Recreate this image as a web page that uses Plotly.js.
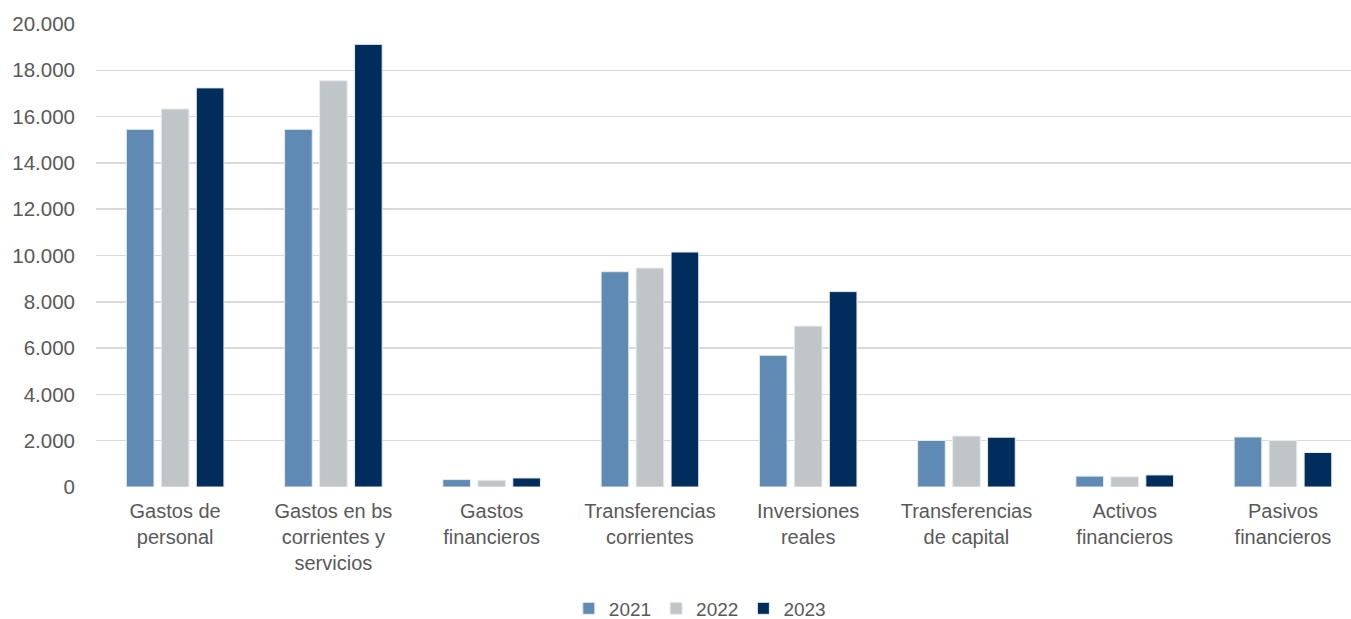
<!DOCTYPE html>
<html>
<head>
<meta charset="utf-8">
<script src="https://cdn.plot.ly/plotly-3.0.1.min.js"></script>
<style>html,body{margin:0;padding:0;overflow:hidden;background:#fff;}</style>
</head>
<body>
<div id="chart" style="width:1351px;height:619px;"></div>
<script>
const categories = [
  "Gastos de<br>personal",
  "Gastos en bs<br>corrientes y<br>servicios",
  "Gastos<br>financieros",
  "Transferencias<br>corrientes",
  "Inversiones<br>reales",
  "Transferencias<br>de capital",
  "Activos<br>financieros",
  "Pasivos<br>financieros"
];
const seriesNames = ["2021", "2022", "2023"];
const values2021 = [15450, 15450, 320, 9300, 5690, 2010, 470, 2160];
const values2022 = [16330, 17550, 290, 9460, 6950, 2200, 440, 2010];
const values2023 = [17240, 19120, 390, 10150, 8440, 2150, 520, 1490];
const colors = ["#5f8ab3", "#c0c5c8", "#002d5c"];
const yTicks = [0, 2000, 4000, 6000, 8000, 10000, 12000, 14000, 16000, 18000, 20000];

const allValues = [values2021, values2022, values2023];
const traces = allValues.map((vals, i) => ({
  type: "bar",
  name: seriesNames[i],
  x: categories,
  y: vals,
  marker: {color: colors[i], line: {color: "#e6ebf0", width: 1}},
  hoverinfo: "x+y"
}));

const layout = {
  width: 1351,
  height: 619,
  margin: {l: 96, r: 0, t: 24, b: 132},
  paper_bgcolor: "#ffffff",
  plot_bgcolor: "#ffffff",
  font: {family: "Liberation Sans, Arial, sans-serif", size: 20, color: "#595959"},
  barmode: "group",
  bargap: 0.337,
  bargroupgap: 0.21,
  separators: ",.",
  xaxis: {
    type: "category",
    range: [-0.5, 7.43],
    showgrid: false,
    zeroline: false,
    showline: false,
    ticks: "",
    ticklabelstandoff: 10,
    tickfont: {size: 20, color: "#595959"},
    automargin: false,
    fixedrange: true
  },
  yaxis: {
    range: [0, 20000],
    tickvals: yTicks,
    tickformat: ",d",
    showgrid: true,
    gridcolor: "#d9d9d9",
    gridwidth: 1.5,
    zeroline: false,
    showline: false,
    ticks: "",
    ticklabelstandoff: 20,
    tickfont: {size: 20.5, color: "#595959"},
    automargin: false,
    fixedrange: true
  },
  showlegend: true,
  legend: {
    orientation: "h",
    xref: "container",
    yref: "container",
    x: 0.518,
    xanchor: "center",
    y: 0.017,
    yanchor: "middle",
    font: {size: 19, color: "#595959"},
    itemwidth: 30,
    tracegroupgap: 0,
    traceorder: "normal"
  }
};

Plotly.newPlot("chart", traces, layout, {displayModeBar: false, staticPlot: true});
</script>
</body>
</html>
